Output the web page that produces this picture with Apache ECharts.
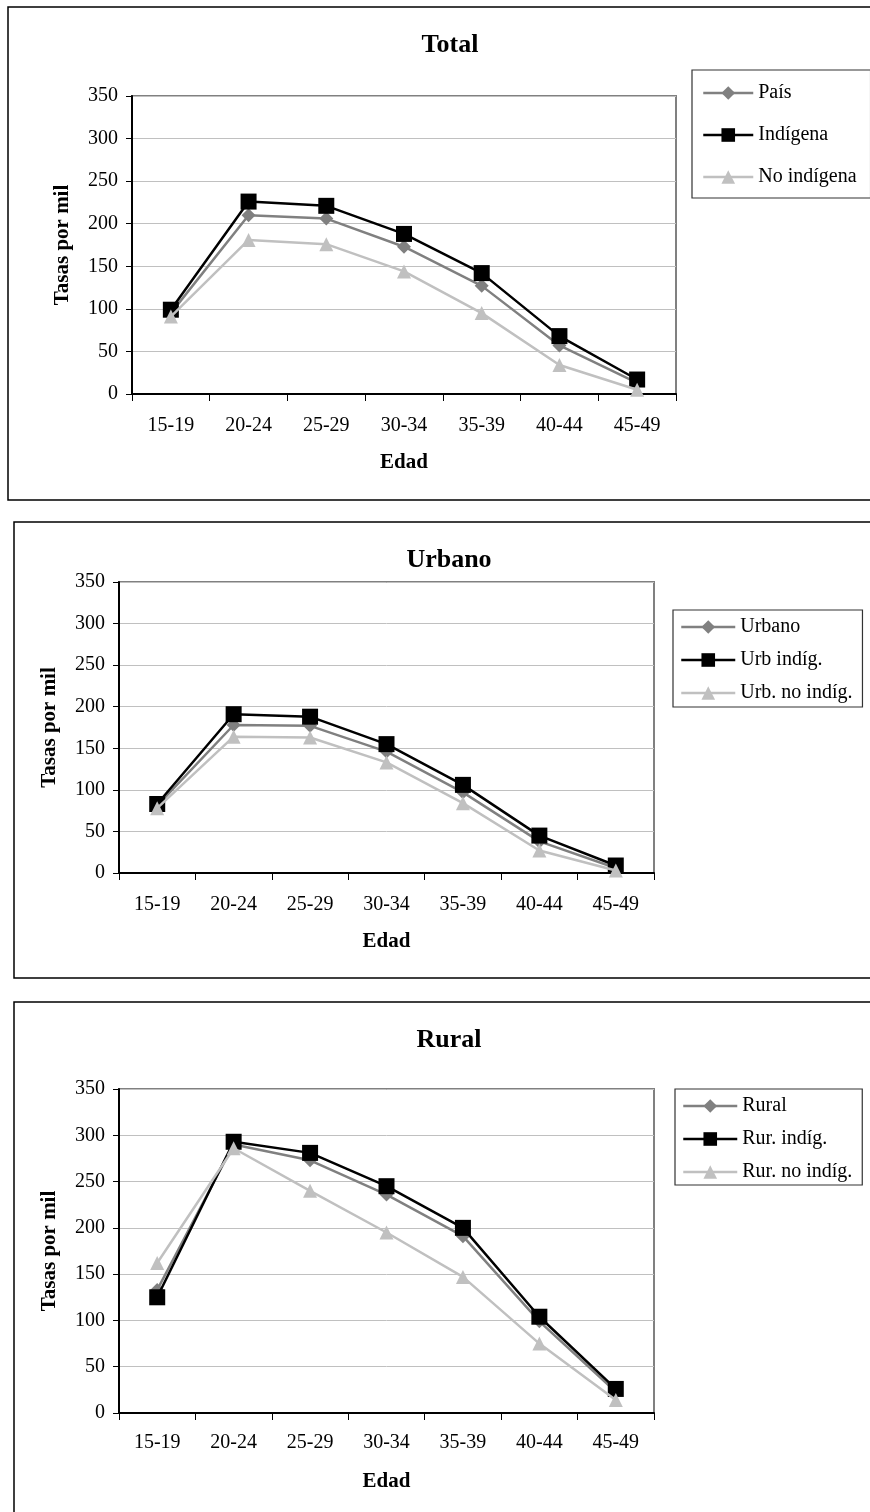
<!DOCTYPE html>
<html>
<head>
<meta charset="utf-8">
<script src="https://cdn.jsdelivr.net/npm/echarts@6/dist/echarts.min.js"></script>
<style>
  html, body { margin: 0; padding: 0; background: #fff; }
  #chart { width: 870px; height: 1512px; }
</style>
</head>
<body>
<div id="chart"></div>
<script>
// grupos de edad
var edades = ['15-19', '20-24', '25-29', '30-34', '35-39', '40-44', '45-49']
var yTicks = [0, 50, 100, 150, 200, 250, 300, 350]

// Total
var pais = [95, 210, 206, 173, 127, 57, 13]
var indigena = [99, 226, 221, 188, 142, 68, 17]
var noIndigena = [91, 181, 176, 144, 95, 34, 5]

// Urbano
var urbano = [81, 178, 177, 146, 97, 38, 6]
var urbIndig = [83, 191, 188, 155, 106, 45, 9]
var urbNoIndig = [78, 164, 163, 133, 84, 27, 3]

// Rural
var rural = [133, 290, 273, 236, 191, 99, 23]
var rurIndig = [125, 293, 281, 245, 200, 104, 26]
var rurNoIndig = [162, 286, 240, 195, 147, 75, 14]

var FONT = 'Liberation Serif'

// one block per panel: title, plot box, legend box
var panels = [
  { title: 'Total', titleX: 445, titleTop: 27,
    grid: { left: 132, top: 96, width: 544, height: 298 },
    labelMargin: 22, legend: { left: 692, top: 70, itemWidth: 50, itemGap: 22, padding: [13, 14, 11, 10] },
    names: ['País', 'Indígena', 'No indígena'], data: [pais, indigena, noIndigena] },
  { title: 'Urbano', titleX: 444, titleTop: 542,
    grid: { left: 119, top: 582, width: 535, height: 291 },
    labelMargin: 22, legend: { left: 673, top: 610, itemWidth: 54, itemGap: 13, padding: [7, 10, 4, 7] },
    names: ['Urbano', 'Urb indíg.', 'Urb. no indíg.'], data: [urbano, urbIndig, urbNoIndig] },
  { title: 'Rural', titleX: 444, titleTop: 1022,
    grid: { left: 119, top: 1089, width: 535, height: 324 },
    labelMargin: 20, legend: { left: 675, top: 1089, itemWidth: 54, itemGap: 13, padding: [7, 10, 3, 7] },
    names: ['Rural', 'Rur. indíg.', 'Rur. no indíg.'], data: [rural, rurIndig, rurNoIndig] }
]

var serieStyles = [
  { symbol: 'diamond', symbolSize: 14, color: '#808080' },
  { symbol: 'rect', symbolSize: 16, color: '#000000' },
  { symbol: 'triangle', symbolSize: 14, color: '#c0c0c0' }
]

var option = {
  backgroundColor: '#ffffff',
  animation: false,
  title: [], legend: [], grid: [], xAxis: [], yAxis: [], series: [],
  graphic: [
    // marcos de cada gráfico
    { type: 'rect', shape: { x: 8, y: 7, width: 900, height: 493 }, style: { fill: 'none', stroke: '#000', lineWidth: 1.5 } },
    { type: 'rect', shape: { x: 14, y: 522, width: 900, height: 456 }, style: { fill: 'none', stroke: '#000', lineWidth: 1.5 } },
    { type: 'rect', shape: { x: 14, y: 1002, width: 900, height: 560 }, style: { fill: 'none', stroke: '#000', lineWidth: 1.5 } }
  ]
}

panels.forEach(function (p, i) {
  option.title.push({
    text: p.title, left: p.titleX, top: p.titleTop, textAlign: 'center',
    textStyle: { fontFamily: FONT, fontSize: 26, fontWeight: 'bold', color: '#000' }
  })
  option.legend.push({
    data: p.names, orient: 'vertical',
    left: p.legend.left, top: p.legend.top,
    itemWidth: p.legend.itemWidth, itemHeight: 17, itemGap: p.legend.itemGap,
    padding: p.legend.padding,
    borderColor: '#333', borderWidth: 1.2,
    lineStyle: { width: 2.5 },
    textStyle: { fontFamily: FONT, fontSize: 20, color: '#000' }
  })
  option.grid.push({
    left: p.grid.left, top: p.grid.top, width: p.grid.width, height: p.grid.height,
    show: true, borderColor: '#808080', borderWidth: 2, backgroundColor: '#fff'
  })
  option.xAxis.push({
    type: 'category', gridIndex: i, data: edades, boundaryGap: true,
    name: 'Edad', nameLocation: 'middle', nameGap: 58,
    nameTextStyle: { fontFamily: FONT, fontSize: 21, fontWeight: 'bold', color: '#000' },
    axisLine: { lineStyle: { color: '#000', width: 2 } },
    axisTick: { show: true, length: 7, lineStyle: { color: '#000', width: 1 } },
    axisLabel: { fontFamily: FONT, fontSize: 20, color: '#000', margin: p.labelMargin, interval: 0 },
    splitLine: { show: false }
  })
  option.yAxis.push({
    type: 'value', gridIndex: i, min: yTicks[0], max: yTicks[yTicks.length - 1], interval: 50,
    name: 'Tasas por mil', nameLocation: 'middle', nameGap: 59,
    nameTextStyle: { fontFamily: FONT, fontSize: 21, fontWeight: 'bold', color: '#000' },
    axisLine: { show: true, lineStyle: { color: '#000', width: 2 } },
    axisTick: { show: true, length: 6, lineStyle: { color: '#000', width: 1 } },
    axisLabel: { fontFamily: FONT, fontSize: 20, color: '#000', margin: 14 },
    splitLine: { show: true, lineStyle: { color: '#c0c0c0', width: 1 } }
  })
  p.names.forEach(function (name, k) {
    var st = serieStyles[k]
    option.series.push({
      name: name, type: 'line', xAxisIndex: i, yAxisIndex: i,
      data: p.data[k],
      symbol: st.symbol, symbolSize: st.symbolSize,
      itemStyle: { color: st.color },
      lineStyle: { color: st.color, width: 2.5 },
      z: 2 + k
    })
  })
})

var chart = echarts.init(document.getElementById('chart'))
chart.setOption(option)
</script>
</body>
</html>
